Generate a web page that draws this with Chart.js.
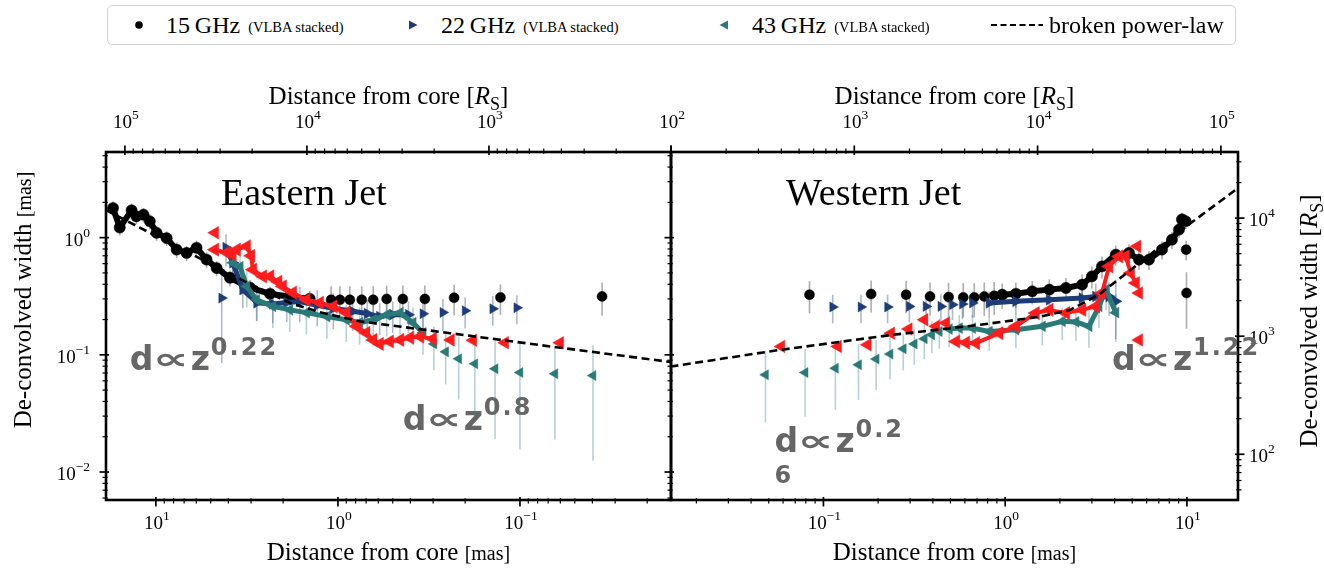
<!DOCTYPE html>
<html>
<head>
<meta charset="utf-8">
<title>De-convolved jet width versus distance from core</title>
<script src="https://cdn.jsdelivr.net/npm/chart.js@4.4.1/dist/chart.umd.min.js"></script>
<style>
  html, body { margin: 0; padding: 0; background: #fff; }
  #wrap { position: relative; width: 1324px; height: 571px; overflow: hidden; font-family: "Liberation Serif", "DejaVu Serif", serif; }
  canvas { position: absolute; top: 0; }
  #east { left: 0; }
  #west { left: 600px; }
  #legend { position: absolute; left: 107px; top: 5px; width: 1127px; height: 38px; border: 1.5px solid #d2d2d2; border-radius: 5px; background: #fff; z-index: 2; }
  .item { position: absolute; top: 0; height: 38px; display: flex; align-items: center; white-space: nowrap; color: #000; }
  .big { font-size: 24px; }
  .small { font-size: 14.5px; margin-left: 8px; position: relative; top: 2px; }
</style>
</head>
<body>
<div id="wrap">
  <canvas id="east" width="680" height="571"></canvas>
  <canvas id="west" width="724" height="571"></canvas>
  <div id="legend">
    <div class="item" style="left:25px"><svg width="12" height="12"><circle cx="6" cy="6" r="3.8" fill="#000"/></svg><span class="big" style="margin-left:21px">15&#8201;GHz</span><span class="small">(VLBA stacked)</span></div>
    <div class="item" style="left:299px"><svg width="12" height="12"><polygon points="2,1.5 10.5,6 2,10.5" fill="#1d3c78"/></svg><span class="big" style="margin-left:22px">22&#8201;GHz</span><span class="small">(VLBA stacked)</span></div>
    <div class="item" style="left:610px"><svg width="12" height="12"><polygon points="10,1.5 1.5,6 10,10.5" fill="#2a7a78"/></svg><span class="big" style="margin-left:22px">43&#8201;GHz</span><span class="small">(VLBA stacked)</span></div>
    <div class="item" style="left:883px"><svg width="56" height="12"><line x1="0" y1="6" x2="52" y2="6" stroke="#000" stroke-width="2.2" stroke-dasharray="6,3.5"/></svg><span class="big" style="margin-left:2px">broken power-law</span></div>
  </div>
</div>
<script>
// ---------------------------------------------------------------------------
// Distances and widths in milliarcseconds; errors are 1-sigma widths (mas).
// ---------------------------------------------------------------------------

// Eastern jet
const EAST_15_TRACK_DIST  = [17.2, 15.8, 13.6, 12.8, 11.7, 10.8, 9.92, 8.73, 7.69, 6.78, 5.98, 5.27, 4.64, 3.92, 3.04, 2.36, 1.84, 1.43];
const EAST_15_TRACK_WIDTH = [1.79, 1.22, 1.71, 1.52, 1.57, 1.38, 1.10, 0.99, 0.79, 0.74, 0.82, 0.65, 0.55, 0.455, 0.374, 0.332, 0.313, 0.301];
const EAST_15_TRACK_ERR   = [0.25, 0.18, 0.25, 0.22, 0.22, 0.20, 0.16, 0.14, 0.12, 0.11, 0.12, 0.10, 0.08, 0.07, 0.06, 0.05, 0.05, 0.05];
const EAST_15_DIST  = [1.09, 0.975, 0.86, 0.74, 0.64, 0.54, 0.44, 0.333, 0.23, 0.128, 0.0354];
const EAST_15_WIDTH = [0.295, 0.295, 0.295, 0.295, 0.295, 0.30, 0.30, 0.30, 0.307, 0.309, 0.315];
const EAST_15_ERR   = [0.09, 0.09, 0.09, 0.09, 0.09, 0.09, 0.09, 0.09, 0.09, 0.09, 0.10];

const EAST_22_TRACK_DIST  = [4.12, 3.78, 3.33, 2.79, 2.28, 1.91, 1.62, 1.30, 1.06, 0.83, 0.69, 0.59, 0.50, 0.41];
const EAST_22_TRACK_WIDTH = [0.82, 0.61, 0.36, 0.278, 0.272, 0.28, 0.285, 0.265, 0.25, 0.235, 0.225, 0.212, 0.22, 0.22];
const EAST_22_TRACK_ERR   = [0.25, 0.18, 0.11, 0.085, 0.085, 0.09, 0.095, 0.09, 0.085, 0.075, 0.07, 0.065, 0.066, 0.066];
const EAST_22_DIST  = [4.35, 0.341, 0.265, 0.200, 0.141, 0.104];
const EAST_22_WIDTH = [0.305, 0.224, 0.230, 0.238, 0.247, 0.252];
const EAST_22_ERR   = [0.22, 0.07, 0.07, 0.07, 0.07, 0.07];

const EAST_43_TRACK_DIST  = [3.78, 3.45, 3.17, 2.80, 2.28, 1.84, 1.49, 1.15, 0.90, 0.76, 0.64, 0.54, 0.456, 0.387, 0.341];
const EAST_43_TRACK_WIDTH = [0.61, 0.565, 0.384, 0.295, 0.259, 0.242, 0.229, 0.212, 0.199, 0.188, 0.199, 0.22, 0.229, 0.188, 0.154];
const EAST_43_TRACK_ERR   = [0.20, 0.20, 0.13, 0.10, 0.09, 0.085, 0.08, 0.075, 0.07, 0.066, 0.07, 0.077, 0.08, 0.066, 0.054];
const EAST_43_DIST  = [0.297, 0.256, 0.217, 0.177, 0.137, 0.100, 0.0643, 0.0397];
const EAST_43_WIDTH = [0.124, 0.106, 0.0925, 0.0838, 0.076, 0.0706, 0.0689, 0.0665];
const EAST_43_ERR   = [0.05, 0.05, 0.051, 0.056, 0.057, 0.055, 0.05, 0.054];

const EAST_RED_TRACK_DIST  = [4.74, 4.09, 3.80, 3.60, 3.17, 3.00, 2.93, 2.58, 2.36, 2.13, 2.01, 1.77, 1.49, 1.26, 1.06, 0.90, 0.79, 0.70, 0.64, 0.59, 0.52, 0.456, 0.402, 0.354, 0.301];
const EAST_RED_TRACK_WIDTH = [0.79, 0.745, 0.72, 0.79, 0.843, 0.70, 0.533, 0.467, 0.467, 0.42, 0.384, 0.339, 0.295, 0.278, 0.259, 0.229, 0.175, 0.154, 0.134, 0.124, 0.13, 0.134, 0.14, 0.143, 0.137];
const EAST_RED_DIST  = [4.74, 0.240, 0.181, 0.121, 0.0603];
const EAST_RED_WIDTH = [1.10, 0.134, 0.133, 0.127, 0.127];

const EAST_FIT_DIST  = [18.8, 10.8, 5.73, 3.04, 1.84, 1.26, 0.757, 0.242, 0.0603, 0.0148];
const EAST_FIT_WIDTH = [1.72, 1.10, 0.665, 0.401, 0.278, 0.231, 0.193, 0.153, 0.115, 0.0868];

// Western jet
const WEST_15_DIST  = [0.0838, 0.183, 0.285, 0.386, 0.488, 0.588, 0.676, 0.767, 0.87, 9.9, 9.95];
const WEST_15_WIDTH = [0.326, 0.330, 0.326, 0.315, 0.311, 0.309, 0.309, 0.315, 0.319, 0.79, 0.337];
const WEST_15_ERR   = [0.10, 0.10, 0.10, 0.10, 0.10, 0.10, 0.10, 0.10, 0.10, 0.15, 0.17];
const WEST_15_TRACK_DIST  = [0.963, 1.145, 1.41, 1.75, 2.16, 2.65, 3.0, 3.41, 4.06, 4.80, 5.45, 6.18, 7.29, 8.27, 9.04, 9.39, 9.84];
const WEST_15_TRACK_WIDTH = [0.326, 0.332, 0.348, 0.36, 0.372, 0.397, 0.467, 0.569, 0.716, 0.74, 0.649, 0.649, 0.79, 0.96, 1.17, 1.43, 1.38];
const WEST_15_TRACK_ERR   = [0.08, 0.08, 0.08, 0.08, 0.08, 0.09, 0.10, 0.12, 0.14, 0.14, 0.12, 0.12, 0.14, 0.16, 0.18, 0.20, 0.20];

const WEST_22_DIST  = [0.1125, 0.161, 0.2255, 0.297, 0.367, 0.443, 0.513, 0.582, 0.661];
const WEST_22_WIDTH = [0.256, 0.256, 0.256, 0.259, 0.259, 0.259, 0.268, 0.271, 0.277];
const WEST_22_ERR   = [0.07, 0.07, 0.07, 0.07, 0.07, 0.07, 0.07, 0.07, 0.07];
const WEST_22_TRACK_DIST  = [0.817, 1.145, 1.75, 2.65, 3.15, 3.73, 4.06];
const WEST_22_TRACK_WIDTH = [0.277, 0.286, 0.295, 0.305, 0.315, 0.315, 0.286];
const WEST_22_TRACK_ERR   = [0.07, 0.07, 0.08, 0.08, 0.09, 0.10, 0.15];

const WEST_43_DIST  = [0.048, 0.0793, 0.1164, 0.156, 0.195, 0.2325, 0.275, 0.316, 0.359, 0.395, 0.434];
const WEST_43_WIDTH = [0.0675, 0.0706, 0.0769, 0.0822, 0.092, 0.1015, 0.1125, 0.124, 0.137, 0.148, 0.158];
const WEST_43_ERR   = [0.041, 0.041, 0.043, 0.041, 0.042, 0.040, 0.039, 0.042, 0.045, 0.045, 0.045];
const WEST_43_TRACK_DIST  = [0.492, 0.559, 0.661, 0.817, 1.145, 1.60, 2.06, 2.45, 2.89, 3.28, 3.59, 4.06];
const WEST_43_TRACK_WIDTH = [0.166, 0.169, 0.169, 0.158, 0.164, 0.175, 0.193, 0.191, 0.175, 0.259, 0.36, 0.229];
const WEST_43_TRACK_ERR   = [0.05, 0.05, 0.05, 0.05, 0.05, 0.055, 0.06, 0.06, 0.06, 0.09, 0.12, 0.10];

const WEST_RED_DIST  = [0.0586, 0.12, 0.175, 0.2355, 0.294, 0.359, 0.416, 0.472, 5.33, 5.45, 5.45];
const WEST_RED_WIDTH = [0.118, 0.118, 0.122, 0.153, 0.166, 0.199, 0.175, 0.187, 0.843, 0.337, 0.134];
const WEST_RED_TRACK_DIST  = [0.536, 0.608, 0.69, 0.927, 1.145, 1.47, 1.75, 2.16, 2.65, 3.15, 3.41, 3.73, 4.23, 4.60, 4.91, 5.23];
const WEST_RED_TRACK_WIDTH = [0.13, 0.127, 0.126, 0.153, 0.175, 0.227, 0.242, 0.227, 0.242, 0.259, 0.337, 0.569, 0.692, 0.692, 0.499, 0.41];

const WEST_FIT_DIST  = [0.0144, 0.0573, 0.239, 0.72, 1.54, 2.28, 3.28, 4.39, 9.39, 18.6];
const WEST_FIT_WIDTH = [0.0794, 0.110, 0.148, 0.180, 0.211, 0.242, 0.326, 0.464, 1.17, 2.57];

// Axis limits (mas on the data axes, Schwarzschild radii on the secondary axes)
const DIST_LIMITS_EAST = [0.0148, 18.8];
const DIST_LIMITS_WEST = [0.0145, 19.1];
const RS_LIMITS_EAST   = [100, 1.27e5];
const RS_LIMITS_WEST   = [100, 1.24e5];
const WIDTH_LIMITS     = [0.00577, 5.38];
const WIDTH_RS_LIMITS  = [41, 36300];

// Power-law slope annotations: anchor (distance, width) in mas
const EAST_NOTES = [
  { dist: 13.9, width: 0.0745, exponent: '0.22' },
  { dist: 0.44, width: 0.0229, exponent: '0.8' }
];
const WEST_NOTES = [
  { dist: 0.0538, width: 0.0148, exponent: '0.2', wrapped: '6' },
  { dist: 3.87,   width: 0.0745, exponent: '1.22' }
];

// ---------------------------------------------------------------------------
const SERIF = '"Liberation Serif", "DejaVu Serif", serif';
const SANS_BOLD = '"DejaVu Sans", "Open Sans", sans-serif';

const STYLE = {
  k15: { color: '#000000', err: 'rgba(105,105,105,0.55)', shape: 'circle',   radius: 5.0, trackRadius: 5.6, rot: 0,   band: 6, order: 4 },
  b22: { color: '#1d3c78', err: 'rgba(95,115,155,0.50)',  shape: 'triangle', radius: 5.8, trackRadius: 6.2, rot: 90,  band: 5, order: 3 },
  t43: { color: '#2a7a78', err: 'rgba(125,170,175,0.55)', shape: 'triangle', radius: 5.8, trackRadius: 6.2, rot: -90, band: 5, order: 2 },
  red: { color: '#ff1c1c', err: null,                      shape: 'triangle', radius: 7.2, trackRadius: 7.6, rot: -90, band: 4, order: 1 }
};

function isDecade(v) { const l = Math.log10(v); return Math.abs(l - Math.round(l)) < 1e-6; }
function logTickValues(min, max) {
  const out = [];
  for (let e = Math.floor(Math.log10(min)); e <= Math.ceil(Math.log10(max)); e++) {
    for (let m = 1; m <= 9; m++) {
      const v = m * Math.pow(10, e);
      if (v >= min * (1 - 1e-9) && v <= max * (1 + 1e-9)) out.push(v);
    }
  }
  return out;
}

function series(xs, ys, errs, st, asTrack) {
  return {
    data: xs.map((x, i) => ({ x, y: ys[i] })),
    errors: errs || null,
    errColor: st.err,
    showLine: !!asTrack,
    borderColor: st.color,
    borderWidth: asTrack ? st.band : 0,
    borderJoinStyle: 'round',
    borderCapStyle: 'round',
    backgroundColor: st.color,
    pointBackgroundColor: st.color,
    pointBorderColor: st.color,
    pointBorderWidth: 0.5,
    pointStyle: st.shape,
    pointRadius: asTrack ? st.trackRadius : st.radius,
    pointRotation: st.rot,
    order: st.order
  };
}
function fitLine(xs, ys) {
  return {
    data: xs.map((x, i) => ({ x, y: ys[i] })),
    showLine: true, borderColor: '#000', borderWidth: 2.6, borderDash: [8, 4.5],
    pointRadius: 0, order: 0
  };
}

function logAxis(position, limits, reverse, fitSize) {
  return {
    type: 'logarithmic', position, min: limits[0], max: limits[1], reverse,
    grid: { display: false, drawTicks: false }, border: { display: false },
    ticks: { display: false, autoSkip: false },
    afterBuildTicks: s => { s.ticks = logTickValues(s.min, s.max).map(value => ({ value })); },
    afterFit: s => { if (s.isHorizontal()) s.height = fitSize; else s.width = fitSize; }
  };
}

// Draw text made of differently styled pieces, left to right from (x, y) on the baseline.
function drawPieces(ctx, pieces, x, y, align) {
  let total = 0;
  pieces.forEach(p => { ctx.font = p.font; p.w = ctx.measureText(p.text).width; total += p.w; });
  let cx = align === 'center' ? x - total / 2 : align === 'right' ? x - total : x;
  pieces.forEach(p => { ctx.font = p.font; ctx.fillText(p.text, cx, y + (p.dy || 0)); cx += p.w; });
}
const rsPieces = (size) => [
  { text: '[', font: `${size}px ${SERIF}` },
  { text: 'R', font: `italic ${size}px ${SERIF}` },
  { text: 'S', font: `${Math.round(size * 0.7)}px ${SERIF}`, dy: size * 0.22 },
  { text: ']', font: `${size}px ${SERIF}` }
];
// "10^n" tick label pieces
function powerPieces(v) {
  const e = Math.round(Math.log10(v));
  return [
    { text: '10', font: `19px ${SERIF}` },
    { text: String(e).replace('-', '\u2212'), font: `13.5px ${SERIF}`, dy: -9 }
  ];
}

const decor = {
  id: 'decor',
  beforeDatasetsDraw(chart) {
    const ctx = chart.ctx, a = chart.chartArea, xs = chart.scales.x, ys = chart.scales.y;
    ctx.save();
    ctx.beginPath(); ctx.rect(a.left, a.top, a.right - a.left, a.bottom - a.top); ctx.clip();
    chart.data.datasets.forEach(ds => {
      if (!ds.errors) return;
      ctx.strokeStyle = ds.errColor; ctx.lineWidth = 1.6;
      ds.data.forEach((p, i) => {
        const e = ds.errors[i];
        const px = xs.getPixelForValue(p.x);
        const top = ys.getPixelForValue(p.y + e);
        const bot = p.y - e > 0 ? ys.getPixelForValue(p.y - e) : a.bottom;
        ctx.beginPath(); ctx.moveTo(px, top); ctx.lineTo(px, bot); ctx.stroke();
      });
    });
    ctx.restore();
  },
  afterDraw(chart, args, o) {
    const ctx = chart.ctx, a = chart.chartArea;
    ctx.save();
    // tick marks
    ctx.strokeStyle = '#000';
    o.tickSides.forEach(([side, id]) => {
      const s = chart.scales[id];
      logTickValues(s.min, s.max).forEach(v => {
        const major = isDecade(v), p = s.getPixelForValue(v);
        const out = major ? 6.5 : 3.5, inn = major ? 3 : 1.8;
        ctx.lineWidth = major ? 1.7 : 1.2;
        ctx.beginPath();
        if (side === 'left')   { ctx.moveTo(a.left - out, p);  ctx.lineTo(a.left + inn, p); }
        if (side === 'right')  { ctx.moveTo(a.right + out, p); ctx.lineTo(a.right - inn, p); }
        if (side === 'top')    { ctx.moveTo(p, a.top - out);   ctx.lineTo(p, a.top + inn); }
        if (side === 'bottom') { ctx.moveTo(p, a.bottom + out); ctx.lineTo(p, a.bottom - inn); }
        ctx.stroke();
      });
    });
    // frame
    ctx.lineWidth = 2.6;
    ctx.strokeRect(a.left, a.top, a.right - a.left, a.bottom - a.top);

    ctx.fillStyle = '#000'; ctx.textAlign = 'left'; ctx.textBaseline = 'alphabetic';
    // decade tick labels
    o.labelSides.forEach(([side, id, skip]) => {
      const s = chart.scales[id];
      logTickValues(s.min, s.max).filter(isDecade).forEach(v => {
        if (skip && Math.abs(v - skip) < 1e-9) return;
        const p = s.getPixelForValue(v), pieces = powerPieces(v);
        if (side === 'bottom') drawPieces(ctx, pieces, p + 1, a.bottom + 29, 'center');
        if (side === 'top')    drawPieces(ctx, pieces, p + 1, a.top - 24, 'center');
        if (side === 'left')   drawPieces(ctx, pieces, a.left - 16, p + 8, 'right');
        if (side === 'right')  drawPieces(ctx, pieces, a.right + 11, p + 8, 'left');
      });
    });

    const cx = (a.left + a.right) / 2;
    // panel title
    ctx.font = `38px ${SERIF}`;
    ctx.fillText(o.title, a.left + 115, a.top + 53);
    // axis titles
    drawPieces(ctx, [{ text: 'Distance from core ', font: `25px ${SERIF}` }].concat(rsPieces(25)), cx, a.top - 48, 'center');
    drawPieces(ctx, [{ text: 'Distance from core ', font: `25px ${SERIF}` }, { text: '[mas]', font: `20px ${SERIF}` }], cx, a.bottom + 60, 'center');
    if (o.yTitle) {
      ctx.save();
      ctx.translate(o.yTitle.x(a), o.yTitle.y);
      ctx.rotate(-Math.PI / 2);
      drawPieces(ctx, o.yTitle.pieces, 0, 0, 'center');
      ctx.restore();
    }
    // slope annotations: d ∝ z^k (the proportional sign is drawn wide and flat)
    ctx.fillStyle = '#666666';
    o.notes.forEach(n => {
      const x = chart.scales.x.getPixelForValue(n.dist), y = chart.scales.y.getPixelForValue(n.width);
      ctx.font = `bold 33px ${SANS_BOLD}`;
      ctx.fillText('d', x, y);
      ctx.fillText('z', x + 61, y);
      ctx.font = `bold 30px ${SANS_BOLD}`;
      const pw = ctx.measureText('\u221D').width;
      ctx.save();
      ctx.translate(x + 23, y - 1);
      ctx.scale(36 / pw, 1);
      ctx.fillText('\u221D', 0, 0);
      ctx.restore();
      ctx.font = `bold 24px ${SANS_BOLD}`;
      ctx.letterSpacing = '2px';
      ctx.fillText(n.exponent, x + 81, y - 15);
      if (n.wrapped) ctx.fillText(n.wrapped, x, y + 31);
      ctx.letterSpacing = '0px';
    });
    ctx.restore();
  }
};

function datasetsFor(p) {
  return [
    fitLine(p.fit[0], p.fit[1]),
    series(p.redTrack[0], p.redTrack[1], null, STYLE.red, true),
    series(p.red[0], p.red[1], null, STYLE.red, false),
    series(p.t43Track[0], p.t43Track[1], p.t43Track[2], STYLE.t43, true),
    series(p.t43[0], p.t43[1], p.t43[2], STYLE.t43, false),
    series(p.b22Track[0], p.b22Track[1], p.b22Track[2], STYLE.b22, true),
    series(p.b22[0], p.b22[1], p.b22[2], STYLE.b22, false),
    series(p.k15Track[0], p.k15Track[1], p.k15Track[2], STYLE.k15, true),
    series(p.k15[0], p.k15[1], p.k15[2], STYLE.k15, false)
  ];
}

const common = {
  responsive: false, animation: false, devicePixelRatio: 1,
  events: [],
  plugins: { legend: { display: false }, tooltip: { enabled: false } }
};

// Eastern jet: distance axis runs from far (left) to core (right)
new Chart(document.getElementById('east'), {
  type: 'scatter',
  data: { datasets: datasetsFor({
    fit: [EAST_FIT_DIST, EAST_FIT_WIDTH],
    redTrack: [EAST_RED_TRACK_DIST, EAST_RED_TRACK_WIDTH], red: [EAST_RED_DIST, EAST_RED_WIDTH],
    t43Track: [EAST_43_TRACK_DIST, EAST_43_TRACK_WIDTH, EAST_43_TRACK_ERR], t43: [EAST_43_DIST, EAST_43_WIDTH, EAST_43_ERR],
    b22Track: [EAST_22_TRACK_DIST, EAST_22_TRACK_WIDTH, EAST_22_TRACK_ERR], b22: [EAST_22_DIST, EAST_22_WIDTH, EAST_22_ERR],
    k15Track: [EAST_15_TRACK_DIST, EAST_15_TRACK_WIDTH, EAST_15_TRACK_ERR], k15: [EAST_15_DIST, EAST_15_WIDTH, EAST_15_ERR]
  }) },
  options: Object.assign({}, common, {
    layout: { padding: { left: 0, right: 9, top: 0, bottom: 0 } },
    scales: {
      x:  logAxis('bottom', DIST_LIMITS_EAST, true, 71),
      x2: logAxis('top', RS_LIMITS_EAST, true, 152),
      y:  logAxis('left', WIDTH_LIMITS, false, 106)
    },
    plugins: Object.assign({}, common.plugins, {
      decor: {
        title: 'Eastern Jet',
        tickSides: [['left', 'y'], ['top', 'x2'], ['bottom', 'x']],
        labelSides: [['left', 'y'], ['top', 'x2', 100], ['bottom', 'x']],
        notes: EAST_NOTES,
        yTitle: { x: a => a.left - 75, y: 300,
          pieces: [{ text: 'De-convolved width ', font: `25px ${SERIF}` }, { text: '[mas]', font: `20px ${SERIF}` }] }
      }
    })
  }),
  plugins: [decor]
});

// Western jet: distance axis runs from core (left) to far (right)
new Chart(document.getElementById('west'), {
  type: 'scatter',
  data: { datasets: datasetsFor({
    fit: [WEST_FIT_DIST, WEST_FIT_WIDTH],
    redTrack: [WEST_RED_TRACK_DIST, WEST_RED_TRACK_WIDTH], red: [WEST_RED_DIST, WEST_RED_WIDTH],
    t43Track: [WEST_43_TRACK_DIST, WEST_43_TRACK_WIDTH, WEST_43_TRACK_ERR], t43: [WEST_43_DIST, WEST_43_WIDTH, WEST_43_ERR],
    b22Track: [WEST_22_TRACK_DIST, WEST_22_TRACK_WIDTH, WEST_22_TRACK_ERR], b22: [WEST_22_DIST, WEST_22_WIDTH, WEST_22_ERR],
    k15Track: [WEST_15_TRACK_DIST, WEST_15_TRACK_WIDTH, WEST_15_TRACK_ERR], k15: [WEST_15_DIST, WEST_15_WIDTH, WEST_15_ERR]
  }) },
  options: Object.assign({}, common, {
    layout: { padding: { left: 0, right: 0, top: 0, bottom: 0 } },
    scales: {
      x:  logAxis('bottom', DIST_LIMITS_WEST, false, 71),
      x2: logAxis('top', RS_LIMITS_WEST, false, 152),
      y:  logAxis('left', WIDTH_LIMITS, false, 71),
      yR: logAxis('right', WIDTH_RS_LIMITS, false, 86)
    },
    plugins: Object.assign({}, common.plugins, {
      decor: {
        title: 'Western Jet',
        tickSides: [['left', 'y'], ['right', 'yR'], ['top', 'x2'], ['bottom', 'x']],
        labelSides: [['right', 'yR'], ['top', 'x2'], ['bottom', 'x']],
        notes: WEST_NOTES,
        yTitle: { x: a => a.right + 79, y: 321, pieces: [{ text: 'De-convolved width ', font: `25px ${SERIF}` }].concat(rsPieces(25)) }
      }
    })
  }),
  plugins: [decor]
});
</script>
</body>
</html>
